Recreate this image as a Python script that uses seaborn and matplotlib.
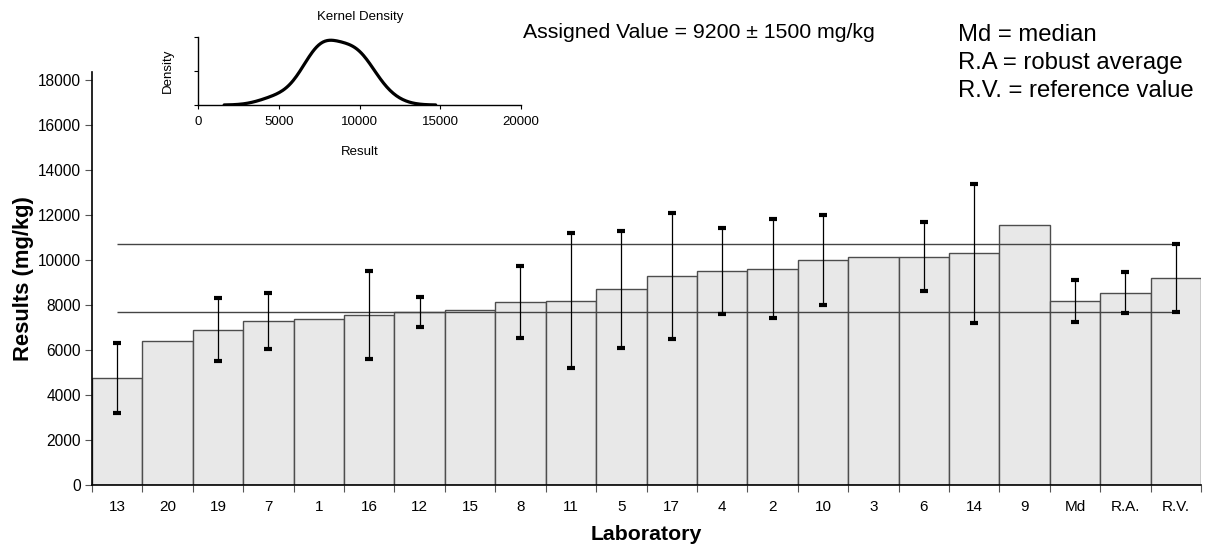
import numpy as np
import pandas as pd
import matplotlib
matplotlib.use("Agg")
import matplotlib.pyplot as plt
import seaborn as sns

# ---- data ----
labs = ["13", "20", "19", "7", "1", "16", "12", "15", "8", "11", "5", "17",
        "4", "2", "10", "3", "6", "14", "9", "Md", "R.A.", "R.V."]
results = [4750, 6400, 6900, 7300, 7380, 7570, 7690, 7790, 8150, 8190, 8690, 9280,
           9500, 9600, 10010, 10140, 10150, 10290, 11550, 8190, 8550, 9200]
uncert = [1550, np.nan, 1400, 1250, np.nan, 1950, 650, np.nan, 1600, 3000, 2600, 2800,
          1900, 2200, 2000, np.nan, 1520, 3100, np.nan, 930, 930, 1500]
assigned_value = 9200
assigned_unc = 1500
lab_count = 19
y_ticks = [0, 2000, 4000, 6000, 8000, 10000, 12000, 14000, 16000, 18000]
kde_ticks = [0, 5000, 10000, 15000, 20000]
legend_lines = ["Md = median", "R.A = robust average", "R.V. = reference value"]

df = pd.DataFrame({"Laboratory": labs, "Result": results, "U": uncert})

sns.set_style("white")
plt.rcParams["font.family"] = ["Liberation Sans", "DejaVu Sans"]
plt.rcParams["text.color"] = "black"
plt.rcParams["axes.labelcolor"] = "black"
plt.rcParams["xtick.color"] = "black"
plt.rcParams["ytick.color"] = "black"

fig = plt.figure(figsize=(12.10, 5.52), dpi=100)
ax = fig.add_axes([92/1210, 1-485/552, (1201-92)/1210, (485-72)/552])

sns.barplot(data=df, x="Laboratory", y="Result", order=labs, width=1.0,
            color="#E8E8E8", saturation=1, edgecolor="#4d4d4d", linewidth=1.0,
            errorbar=None, ax=ax)

xpos = np.arange(len(labs))
mask = ~np.isnan(df["U"].values)
ax.errorbar(xpos[mask], df["Result"].values[mask], yerr=df["U"].values[mask],
            fmt="none", ecolor="black", elinewidth=0.9, capsize=3.2, capthick=3, zorder=5)

ax.hlines([assigned_value + assigned_unc, assigned_value - assigned_unc],
          0, len(labs) - 1, colors="#444444", linewidth=1.0, zorder=4)

ax.set_xlim(-0.5, len(labs) - 0.5)
ax.set_ylim(0, 18350)
ax.set_yticks(y_ticks)
ax.set_yticklabels([str(t) for t in y_ticks], fontsize=11.2)
ax.set_xticks(xpos)
ax.set_xticklabels(labs, fontsize=11)
ax.set_xticks(np.arange(-0.5, len(labs), 1), minor=True)
ax.tick_params(axis="x", which="major", length=0, pad=11)
ax.tick_params(axis="x", which="minor", length=5, width=0.8, color="#555555", direction="out")
ax.tick_params(axis="y", which="major", length=5, width=0.8, color="#555555", direction="out", pad=3)
ax.yaxis.set_ticks_position("left")
ax.xaxis.set_ticks_position("bottom")
for s in ["top", "right"]:
    ax.spines[s].set_visible(False)
for s in ["left", "bottom"]:
    ax.spines[s].set_color("black")
    ax.spines[s].set_linewidth(1.2)
ax.set_xlabel("Laboratory", fontsize=15.3, fontweight="bold", labelpad=8)
ax.set_ylabel("Results (mg/kg)", fontsize=15.8, fontweight="bold", labelpad=3)

fig.text(523/1210, 1-32/552, "Assigned Value = 9200 \u00b1 1500 mg/kg",
         fontsize=15.3, ha="left", va="center")
for i, t in enumerate(legend_lines):
    fig.text(958/1210, 1-(35 + 28*i)/552, t, fontsize=17.2, ha="left", va="center")

# ---- inset KDE ----
ax2 = fig.add_axes([198.5/1210, 1-105/552, (521-198.5)/1210, (105-37)/552])
sns.kdeplot(x=df["Result"].values[:lab_count], bw_adjust=1.15, cut=3,
            color="black", linewidth=2.3, ax=ax2)
ymax = max(l.get_ydata().max() for l in ax2.get_lines())
top = ymax * 1.05
ax2.set_ylim(0, top)
ax2.set_xlim(0, 20000)
ax2.set_xticks(kde_ticks)
ax2.set_xticklabels([str(t) for t in kde_ticks], fontsize=9.5)
ax2.set_yticks([0, top / 2, top])
ax2.set_yticklabels([])
ax2.tick_params(axis="both", length=3, width=0.8, direction="out", pad=5)
ax2.xaxis.set_ticks_position("bottom")
ax2.yaxis.set_ticks_position("left")
for s in ["top", "right"]:
    ax2.spines[s].set_visible(False)
for s in ["left", "bottom"]:
    ax2.spines[s].set_color("black")
    ax2.spines[s].set_linewidth(1.0)
ax2.set_xlabel("Result", fontsize=9.5, labelpad=13)
ax2.set_ylabel("Density", fontsize=9.5, labelpad=10)
ax2.set_title("Kernel Density", fontsize=9.5, pad=12)
ax2.patch.set_alpha(0)

fig.savefig("out.png", dpi=100)
